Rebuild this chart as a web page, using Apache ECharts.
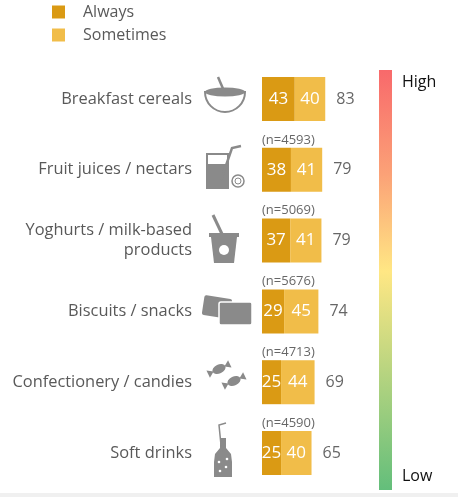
<!DOCTYPE html>
<html>
<head>
<meta charset="utf-8">
<script src="https://cdn.jsdelivr.net/npm/echarts@6/dist/echarts.min.js"></script>
<style>
  html, body { margin: 0; padding: 0; background: #fff; }
  #chart { width: 458px; height: 497px; }
</style>
</head>
<body>
<div id="chart"></div>
<script>
// data
var categories = ['Breakfast cereals', 'Fruit juices / nectars', 'Yoghurts / milk-based\nproducts', 'Biscuits / snacks', 'Confectionery / candies', 'Soft drinks'];
var always = [43, 38, 37, 29, 25, 25];
var sometimes = [40, 41, 41, 45, 44, 40];
var totals = [83, 79, 79, 74, 69, 65];
var nLabels = ['', '(n=4593)', '(n=5069)', '(n=5676)', '(n=4713)', '(n=4590)'];
var scaleText = ['High', 'Low'];

var FONT = 'Open Sans';
var ICON = '#8a8a8a';

var chart = echarts.init(document.getElementById('chart'));

// flattened circle, used for ellipses
function oval(cx, cy, rx, ry, style, rot) {
    return { type: 'circle', x: cx, y: cy, scaleX: rx / 10, scaleY: ry / 10, rotation: rot || 0, shape: { cx: 0, cy: 0, r: 10 }, style: style };
}

// small gray pictograms next to the category labels
function icons() {
    var g = [];
    // bowl
    g.push({ type: 'line', shape: { x1: 218, y1: 77, x2: 224, y2: 91 }, style: { stroke: ICON, lineWidth: 2.5 } });
    g.push({ type: 'sector', shape: { cx: 225, cy: 92, r: 20, startAngle: 0, endAngle: Math.PI }, style: { fill: '#fff', stroke: ICON, lineWidth: 2 } });
    g.push(oval(225, 92, 20, 4.5, { fill: ICON }));
    // glass + straw + lemon
    g.push({ type: 'rect', shape: { x: 207, y: 154, width: 21, height: 34 }, style: { fill: '#fff', stroke: ICON, lineWidth: 2 } });
    g.push({ type: 'rect', shape: { x: 207, y: 164, width: 21, height: 24 }, style: { fill: ICON } });
    g.push({ type: 'polyline', shape: { points: [[221, 180], [232, 148], [241, 146]] }, style: { stroke: ICON, lineWidth: 2.5, fill: null } });
    g.push({ type: 'circle', shape: { cx: 238, cy: 181, r: 6 }, style: { fill: '#fff', stroke: ICON, lineWidth: 1.5 } });
    g.push({ type: 'circle', shape: { cx: 238, cy: 181, r: 3 }, style: { fill: null, stroke: ICON, lineWidth: 1 } });
    // yoghurt cup
    g.push({ type: 'line', shape: { x1: 213, y1: 215, x2: 222, y2: 234 }, style: { stroke: ICON, lineWidth: 3 } });
    g.push({ type: 'rect', shape: { x: 209, y: 233, width: 30, height: 4 }, style: { fill: ICON } });
    g.push({ type: 'polygon', shape: { points: [[211, 237], [237, 237], [234, 263], [214, 263]] }, style: { fill: ICON } });
    g.push({ type: 'circle', shape: { cx: 224, cy: 250, r: 5 }, style: { fill: '#fff' } });
    // biscuits
    g.push({ type: 'rect', shape: { x: -14, y: -10, width: 28, height: 20, r: 2 }, x: 217, y: 307, rotation: -0.15, style: { fill: ICON } });
    g.push({ type: 'rect', shape: { x: 219, y: 302, width: 33, height: 23, r: 2 }, style: { fill: ICON, stroke: '#fff', lineWidth: 1.5 } });
    // candies
    [[219, 369], [234, 381]].forEach(function (c) {
        g.push({
            type: 'group', x: c[0], y: c[1], rotation: 0.45,
            children: [
                oval(0, 0, 7, 4.5, { fill: ICON }),
                { type: 'polygon', shape: { points: [[-6, 0], [-12, -4], [-12, 4]] }, style: { fill: ICON } },
                { type: 'polygon', shape: { points: [[6, 0], [12, -4], [12, 4]] }, style: { fill: ICON } }
            ]
        });
    });
    // soft drink bottle
    g.push({ type: 'polygon', shape: { points: [[220, 438], [226, 438], [226, 448], [231, 454], [232, 462], [232, 477], [214, 477], [214, 462], [215, 454], [220, 448]] }, style: { fill: ICON } });
    g.push({ type: 'polyline', shape: { points: [[222, 455], [219, 425], [226, 423]] }, style: { stroke: ICON, lineWidth: 1.5, fill: null } });
    [[219, 462], [226, 467], [220, 471], [227, 459]].forEach(function (b) {
        g.push({ type: 'circle', shape: { cx: b[0], cy: b[1], r: 1.3 }, style: { fill: '#fff' } });
    });
    return g;
}

var option = {
    animation: false,
    textStyle: { fontFamily: FONT },
    legend: {
        data: ['Always', 'Sometimes'],
        orient: 'vertical',
        left: 52,
        top: 4,
        padding: 0,
        itemWidth: 13,
        itemHeight: 13,
        itemGap: 7,
        icon: 'rect',
        textStyle: { fontFamily: FONT, fontSize: 16, color: '#595959', padding: [0, 0, 0, 13] }
    },
    grid: { left: 262, top: 63.6, width: 76.2, height: 424.8 },
    xAxis: { type: 'value', min: 0, max: 100, show: false },
    yAxis: {
        type: 'category',
        inverse: true,
        data: categories,
        axisLine: { show: false },
        axisTick: { show: false },
        axisLabel: { margin: 70, fontFamily: FONT, fontSize: 16.4, color: '#595959', lineHeight: 20 }
    },
    series: [
        {
            name: 'Always', type: 'bar', stack: 'total', barWidth: 44,
            itemStyle: { color: '#DA9A14' },
            label: { show: true, position: 'inside', color: '#fff', fontFamily: FONT, fontSize: 17 },
            data: always
        },
        {
            name: 'Sometimes', type: 'bar', stack: 'total', barWidth: 44,
            itemStyle: { color: '#F1BD49' },
            label: { show: true, position: 'inside', color: '#fff', fontFamily: FONT, fontSize: 17 },
            data: sometimes
        },
        {
            name: 'total', type: 'scatter', symbolSize: 0, silent: true,
            label: {
                show: true, position: 'right', distance: 11, color: '#404040', fontFamily: FONT, fontSize: 16,
                formatter: function (p) { return totals[p.dataIndex]; }
            },
            data: always.map(function (a, i) { return [a + sometimes[i], i]; })
        },
        {
            name: 'n', type: 'scatter', symbolSize: 0, silent: true,
            label: {
                show: true, position: [0, -30], align: 'left', verticalAlign: 'middle', color: '#404040', fontFamily: FONT, fontSize: 13,
                formatter: function (p) { return nLabels[p.dataIndex]; }
            },
            data: nLabels.map(function (n, i) { return [0, i]; })
        }
    ],
    graphic: icons().concat([
        {
            type: 'rect', shape: { x: 379, y: 70, width: 13, height: 420 },
            style: {
                fill: new echarts.graphic.LinearGradient(0, 0, 0, 1, [
                    { offset: 0, color: '#F8696B' },
                    { offset: 0.25, color: '#FBA277' },
                    { offset: 0.48, color: '#FFE784' },
                    { offset: 1, color: '#63BE7B' }
                ])
            }
        },
        { type: 'text', x: 402, y: 82, style: { text: scaleText[0], fill: '#111', font: '16px "Open Sans"', textVerticalAlign: 'middle' } },
        { type: 'text', x: 402, y: 476, style: { text: scaleText[1], fill: '#111', font: '16px "Open Sans"', textVerticalAlign: 'middle' } },
        { type: 'rect', shape: { x: 0, y: 493, width: 458, height: 4 }, style: { fill: '#f0f0f0' } }
    ])
};

chart.setOption(option);
</script>
</body>
</html>
